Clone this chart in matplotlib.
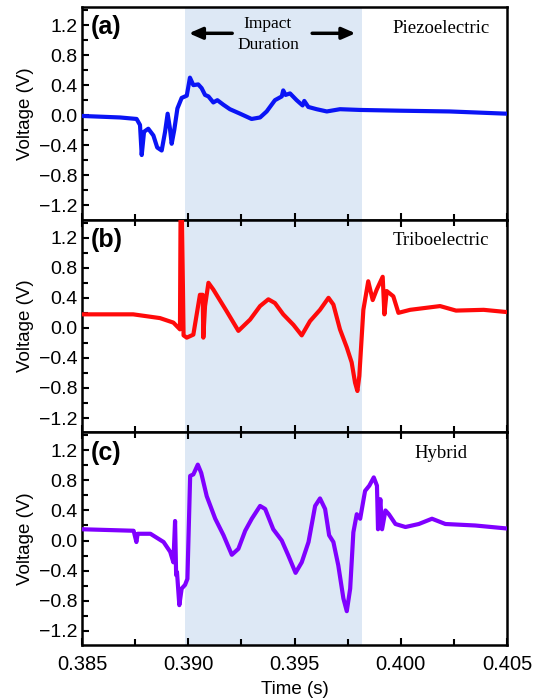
import matplotlib
matplotlib.use("Agg")
import matplotlib.pyplot as plt
from matplotlib.ticker import MultipleLocator

# time (s) and voltage (V)
t_piezo = [0.38500, 0.38679, 0.38757, 0.38773, 0.38781, 0.38792, 0.38812, 0.38836,
           0.38854, 0.38875, 0.38891, 0.38903, 0.38914, 0.38922, 0.38934, 0.38949,
           0.38969, 0.38993, 0.39008, 0.39024, 0.39047, 0.39063, 0.39079, 0.39095,
           0.39118, 0.39137, 0.39165, 0.39196, 0.39244, 0.39298, 0.39338, 0.39369,
           0.39408, 0.39440, 0.39447, 0.39458, 0.39479, 0.39510, 0.39538, 0.39546,
           0.39565, 0.39604, 0.39652, 0.39714, 0.39808, 0.39996, 0.40230, 0.40500]
v_piezo = [-0.01, -0.03, -0.05, -0.13, -0.53, -0.22, -0.18, -0.27,
           -0.43, -0.47, -0.22, 0.02, -0.18, -0.38, -0.20, 0.09,
           0.23, 0.26, 0.50, 0.40, 0.41, 0.36, 0.27, 0.25,
           0.17, 0.20, 0.14, 0.08, 0.02, -0.05, -0.03, 0.05,
           0.20, 0.25, 0.33, 0.27, 0.29, 0.20, 0.13, 0.19,
           0.11, 0.08, 0.05, 0.08, 0.07, 0.06, 0.05, 0.02]

t_tribo = [0.38500, 0.38741, 0.38867, 0.38930, 0.38961, 0.38964, 0.38970, 0.38978,
           0.38993, 0.39024, 0.39055, 0.39068, 0.39071, 0.39079, 0.39095, 0.39118,
           0.39181, 0.39236, 0.39291, 0.39338, 0.39377, 0.39408, 0.39447, 0.39495,
           0.39534, 0.39573, 0.39620, 0.39660, 0.39683, 0.39714, 0.39746, 0.39769,
           0.39785, 0.39796, 0.39805, 0.39824, 0.39847, 0.39868, 0.39887, 0.39915,
           0.39923, 0.39934, 0.39965, 0.39989, 0.40044, 0.40185, 0.40260, 0.40390,
           0.40500]
v_tribo = [0.18, 0.18, 0.13, 0.07, -0.02, 1.60, 1.60, -0.10,
           -0.13, -0.09, 0.44, 0.44, -0.13, 0.29, 0.60, 0.51,
           0.22, -0.04, 0.11, 0.29, 0.38, 0.33, 0.18, 0.04,
           -0.10, 0.09, 0.24, 0.40, 0.31, -0.02, -0.26, -0.46,
           -0.73, -0.84, -0.64, 0.24, 0.62, 0.37, 0.51, 0.68,
           0.18, 0.49, 0.42, 0.20, 0.24, 0.29, 0.23, 0.24,
           0.21]

t_hybrid = [0.38500, 0.38743, 0.38756, 0.38762, 0.38822, 0.38884, 0.38915, 0.38930,
            0.38938, 0.38943, 0.38947, 0.38958, 0.38969, 0.38985, 0.38996, 0.39009,
            0.39024, 0.39045, 0.39061, 0.39087, 0.39127, 0.39166, 0.39205, 0.39236,
            0.39268, 0.39299, 0.39338, 0.39362, 0.39400, 0.39440, 0.39471, 0.39505,
            0.39534, 0.39566, 0.39597, 0.39620, 0.39644, 0.39663, 0.39683, 0.39706,
            0.39730, 0.39746, 0.39762, 0.39777, 0.39793, 0.39809, 0.39832, 0.39852,
            0.39873, 0.39888, 0.39893, 0.39904, 0.39912, 0.39928, 0.39944, 0.39975,
            0.40022, 0.40085, 0.40147, 0.40210, 0.40351, 0.40500]
v_hybrid = [0.15, 0.13, -0.02, 0.09, 0.09, -0.02, -0.15, -0.29,
            0.26, -0.46, -0.42, -0.86, -0.64, -0.59, -0.51, 0.86,
            0.88, 1.01, 0.90, 0.59, 0.29, 0.07, -0.19, -0.11,
            0.13, 0.29, 0.46, 0.42, 0.15, 0.00, -0.20, -0.43,
            -0.29, -0.02, 0.46, 0.56, 0.42, 0.07, -0.02, -0.33,
            -0.77, -0.94, -0.64, 0.11, 0.35, 0.29, 0.66, 0.73,
            0.84, 0.73, 0.15, 0.55, 0.15, 0.40, 0.35, 0.22,
            0.18, 0.22, 0.29, 0.22, 0.20, 0.16]

impact_start = 0.38985
impact_end = 0.39818

panels = [("(a)", "Piezoelectric", t_piezo, v_piezo, "#0a14f5"),
          ("(b)", "Triboelectric", t_tribo, v_tribo, "#ff0a0a"),
          ("(c)", "Hybrid", t_hybrid, v_hybrid, "#8000ff")]

fig, axes = plt.subplots(3, 1, figsize=(5.38, 7.0), dpi=100, sharex=True)
fig.subplots_adjust(left=0.1524, right=0.9424, top=0.99, bottom=0.0786, hspace=0)

for i, (ax, (tag, name, t, v, col)) in enumerate(zip(axes, panels)):
    ax.axvspan(impact_start, impact_end, color="#dde8f5", lw=0, zorder=0)
    ax.plot(t, v, color=col, lw=3.0, solid_joinstyle="round", zorder=3)
    ax.set_xlim(0.385, 0.405)
    ax.set_ylim(-1.39, 1.44)
    ax.yaxis.set_major_locator(MultipleLocator(0.4))
    ax.yaxis.set_minor_locator(MultipleLocator(0.2))
    ax.xaxis.set_major_locator(MultipleLocator(0.005))
    ax.xaxis.set_minor_locator(MultipleLocator(0.0025))
    ax.yaxis.set_major_formatter(plt.FuncFormatter(lambda y, p: f"{y:.1f}".replace("-", "\u2212")))
    ax.tick_params(which="both", direction="in", top=(i > 0), right=False, width=1.5)
    ax.tick_params(which="major", length=5, labelsize=14)
    ax.tick_params(which="minor", length=4)
    ax.tick_params(axis="x", pad=7)
    for s in ax.spines.values():
        s.set_linewidth(1.8)
    ax.set_ylabel("Voltage (V)", fontsize=13.5, family="Liberation Sans", labelpad=3)
    for lab in ax.get_yticklabels() + ax.get_xticklabels():
        lab.set_family("Liberation Sans")
    ax.text(0.02, 0.905, tag, transform=ax.transAxes, fontsize=18, fontweight="bold",
            family="Liberation Sans", va="center", ha="left")
    ax.text(0.845, 0.9, name, transform=ax.transAxes, fontsize=13.5,
            family="Liberation Serif", va="center", ha="center")

ax = axes[0]
ax.text(0.39375, 1.075, "Impact\nDuration", fontsize=12.5, family="Liberation Serif",
        ha="center", va="center", linespacing=1.35)
ax.annotate("", xy=(0.3899, 1.09), xytext=(0.3922, 1.09),
            arrowprops=dict(arrowstyle="-|>,head_length=0.8,head_width=0.35", lw=2.5, color="black"))
ax.annotate("", xy=(0.3980, 1.09), xytext=(0.3957, 1.09),
            arrowprops=dict(arrowstyle="-|>,head_length=0.8,head_width=0.35", lw=2.5, color="black"))

axes[2].set_xticklabels([f"{x:.3f}" for x in axes[2].get_xticks()], family="Liberation Sans",
                        fontsize=14.5)
axes[2].set_xlabel("Time (s)", fontsize=13.5, family="Liberation Sans", labelpad=5)

fig.savefig("out.png", dpi=100)
